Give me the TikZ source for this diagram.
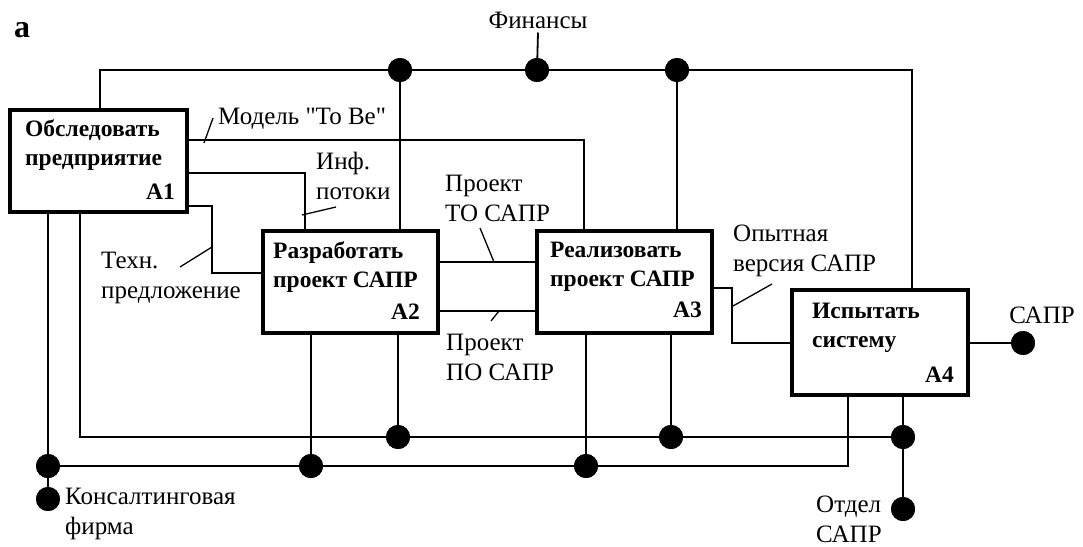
\documentclass[tikz,border=0pt]{standalone}
\usepackage{fontspec}
\setmainfont{Liberation Serif}
\newfontfamily\rawserif{Liberation Serif}
\usetikzlibrary{calc}
\tikzset{
  box/.style={draw, line width=3.2pt, fill=white, inner sep=0pt, outer sep=0pt},
  conn/.style={line width=1.8pt},
  tick/.style={line width=1.3pt},
  dot/.style={circle, fill=black, inner sep=0pt, minimum size=24pt},
  lbl/.style={font=\fontsize{25}{30}\selectfont, inner sep=0pt, align=left},
  btxt/.style={font=\fontsize{23.5}{29}\selectfont\bfseries, inner sep=0pt, align=left},
  bnum/.style={font=\fontsize{23.5}{25}\selectfont\bfseries, inner sep=0pt}
}
\begin{document}
\begin{tikzpicture}[x=1pt,y=-1pt]
\useasboundingbox[fill=white] (0,0) rectangle (1083,546);
% boxes
\node[box, minimum width=177pt, minimum height=102pt, anchor=north west] (A1) at (10,110) {};
\node[box, minimum width=175pt, minimum height=102pt, anchor=north west] (A2) at (263,231) {};
\node[box, minimum width=175pt, minimum height=102pt, anchor=north west] (A3) at (537,231) {};
\node[box, minimum width=176pt, minimum height=105pt, anchor=north west] (A4) at (792,290) {};
% dots
\node[dot] (d1) at (400,70) {};
\node[dot] (d2) at (537,70) {};
\node[dot] (d3) at (677,70) {};
\node[dot] (ds) at (1023,343) {};
\node[dot] (e1) at (398,437) {};
\node[dot] (e2) at (671,437) {};
\node[dot] (e3) at (903,437) {};
\node[dot] (f1) at (48,466) {};
\node[dot] (f2) at (311,466) {};
\node[dot] (f3) at (586,466) {};
\node[dot] (k) at (48,499) {};
\node[dot] (o) at (903,509) {};
% labels
\node[font=\fontsize{32}{32}\selectfont\bfseries, inner sep=0pt, anchor=base] (la) at (22,37) {а};
\node[lbl] (fin) at (538,20) {Финансы};
\node[lbl, anchor=west] (lmod) at (218,119) {Модель {\rawserif"}To Be{\rawserif"}};
\node[lbl, anchor=west] (linf) at (316,176) {Инф.\\потоки};
\node[lbl, anchor=west] (ltech) at (101,278) {Техн.\\предложение};
\node[lbl, anchor=west] (lto) at (445,198) {Проект\\ТО САПР};
\node[lbl, anchor=west] (lpo) at (446,357) {Проект\\ПО САПР};
\node[lbl, anchor=west] (lop) at (733,251) {Опытная\\версия САПР};
\node[lbl] (lsapr) at (1042,315) {САПР};
\node[lbl, anchor=west] (lkon) at (65,514) {Консалтинговая\\фирма};
\node[lbl, anchor=west] (lotd) at (816,519) {Отдел\\САПР};
% box texts
\node[btxt, anchor=west] (t1) at ($(A1.north west)+(15,35)$) {Обследовать\\предприятие};
\node[bnum, anchor=east] (n1) at ($(A1.north east)+(-12,82)$) {А1};
\node[btxt, anchor=west] (t2) at ($(A2.north west)+(10,36)$) {Разработать\\проект САПР};
\node[bnum, anchor=east] (n2) at ($(A2.north east)+(-18,81)$) {А2};
\node[btxt, anchor=west] (t3) at ($(A3.north west)+(13,36)$) {Реализовать\\проект САПР};
\node[bnum, anchor=east] (n3) at ($(A3.north east)+(-10,79)$) {А3};
\node[btxt, anchor=west] (t4) at ($(A4.north west)+(20,38)$) {Испытать\\систему};
\node[bnum, anchor=east] (n4) at ($(A4.north east)+(-14,85)$) {А4};
% top bus
\draw[conn] ($(A1.north west)+(90,0)$) |- (d1.center) -- (d2.center) -- (d3.center) -| ($(A4.north west)+(120,0)$);
\draw[conn] (fin.south) ++(0,4) -- (d2.center);
\draw[conn] (d1.center) -- (d1 |- A2.north);
\draw[conn] (d3.center) -- (d3 |- A3.north);
% A1 outputs
\draw[conn] ($(A1.north east)+(0,30)$) -| ($(A3.north west)+(47,0)$);
\draw[conn] ($(A1.north east)+(0,63)$) -| ($(A2.north west)+(42,0)$);
\draw[conn] ($(A1.north east)+(0,96)$) -- ++(25,0) |- ($(A2.north west)+(0,42)$);
% A2 -> A3
\draw[conn] ($(A2.north east)+(0,31)$) -- ($(A3.north west)+(0,31)$);
\draw[conn] ($(A2.north east)+(0,80)$) -- ($(A3.north west)+(0,80)$);
% A3 -> A4
\draw[conn] ($(A3.north east)+(0,57)$) -- ++(20,0) |- ($(A4.north west)+(0,53)$);
% A4 -> output
\draw[conn] ($(A4.north east)+(0,53)$) -- (ds.center);
% bottom buses
\draw[conn] ($(A1.south west)+(38,0)$) -- (f1.center) -- (k.center);
\draw[conn] ($(A1.south west)+(70,0)$) |- (e1.center) -- (e2.center) -- (e3.center);
\draw[conn] (f1.center) -- (f2.center) -- (f3.center) -| ($(A4.south west)+(56,0)$);
\draw[conn] (A2.south -| f2) -- (f2.center);
\draw[conn] (A2.south -| e1) -- (e1.center);
\draw[conn] (A3.south -| f3) -- (f3.center);
\draw[conn] (A3.south -| e2) -- (e2.center);
\draw[conn] (A4.south -| e3) -- (e3.center) -- (o.center);
% ticks
\draw[tick] (204,143) -- (213,118);
\draw[tick] (302,215) -- (336,207);
\draw[tick] (180,267) -- (212,247);
\draw[tick] (480,228) -- (494,262);
\draw[tick] (491,321) -- (499,311);
\draw[tick] (733,306) -- (772,284);
% redraw dots on top
\foreach \n in {d1,d2,d3,ds,e1,e2,e3,f1,f2,f3,k,o}{\fill (\n) circle (12pt);}
\end{tikzpicture}
\end{document}
